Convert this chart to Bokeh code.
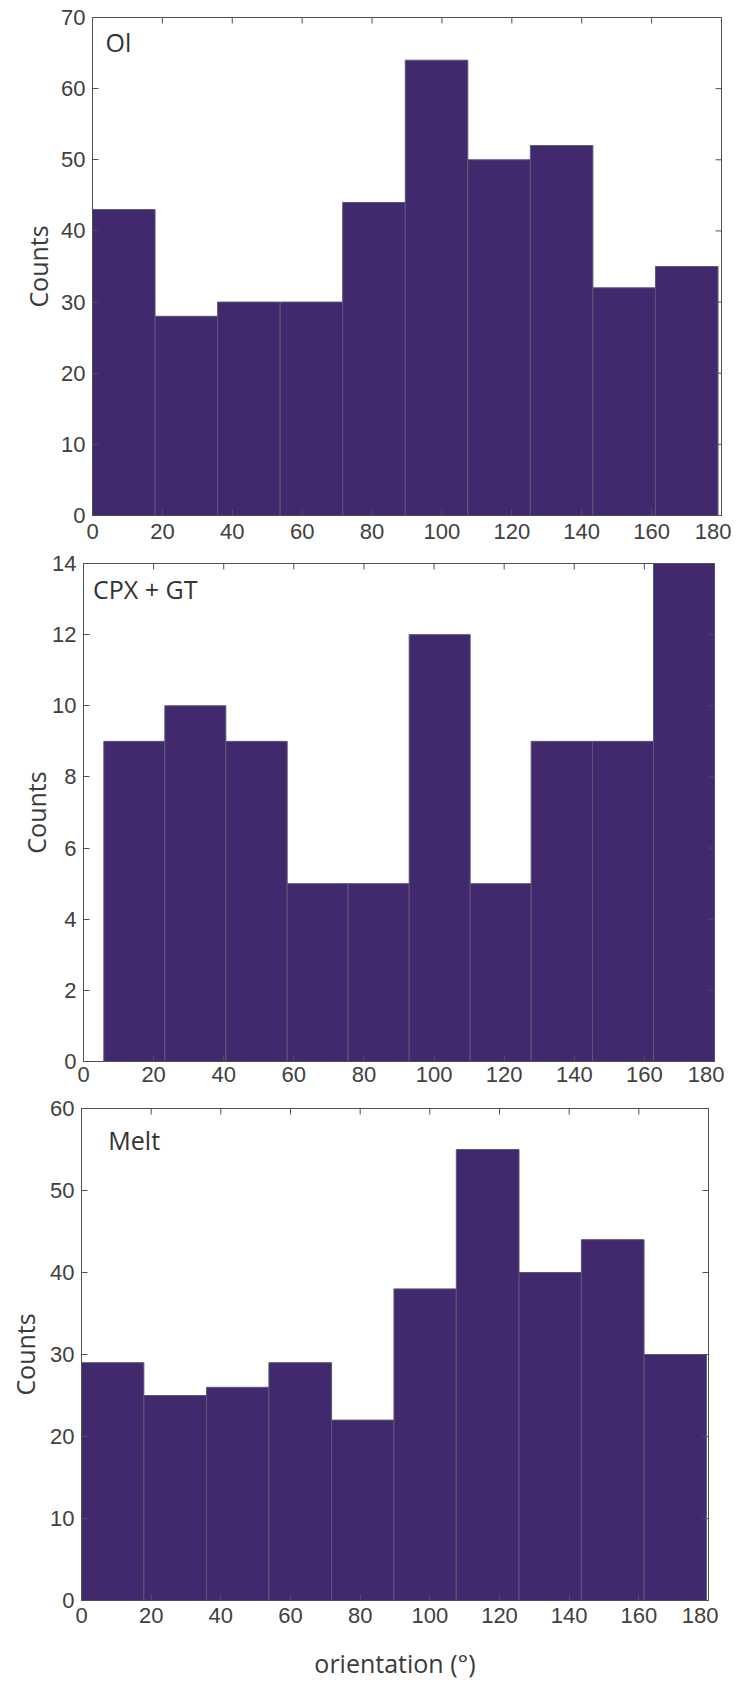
import math
from bokeh.plotting import figure
from bokeh.models import LinearAxis, Range1d, FixedTicker, Label, ColumnDataSource, Spacer
from bokeh.layouts import column, row
from bokeh.embed import file_html
from bokeh.resources import INLINE

# ---------------- data ----------------
x_ticks = [0, 20, 40, 60, 80, 100, 120, 140, 160, 180]

ol_edges = [0, 17.9, 35.8, 53.7, 71.6, 89.5, 107.4, 125.3, 143.2, 161.1, 179.0]
ol_counts = [43, 28, 30, 30, 44, 64, 50, 52, 32, 35]
ol_yticks = [0, 10, 20, 30, 40, 50, 60, 70]

cpx_edges = [5.8, 23.2, 40.6, 58.1, 75.5, 92.9, 110.3, 127.7, 145.2, 162.6, 180.0]
cpx_counts = [9, 10, 9, 5, 5, 12, 5, 9, 9, 14]
cpx_yticks = [0, 2, 4, 6, 8, 10, 12, 14]

melt_edges = [0, 17.9, 35.9, 53.8, 71.8, 89.7, 107.6, 125.6, 143.5, 161.5, 179.4]
melt_counts = [29, 25, 26, 29, 22, 38, 55, 40, 44, 30]
melt_yticks = [0, 10, 20, 30, 40, 50, 60]

panel_names = ["Ol", "CPX + GT", "Melt"]
y_label = "Counts"
x_label = "orientation (°)"

# ---------------- styling ----------------
FILL = "#42296d"
EDGE = "#5a5776"
AXC = "#505050"
TICKC = "#404040"
TICK_FONT = "Liberation Sans"
LABEL_FONT = "Open Sans"
FRAME_W = 631
FRAME_H = 498
BL = 72
BR = 10


def make_panel(edges, counts, yticks, name, bt, bb, ylab_standoff,
               xstand, xlab=None, xlab_standoff=0, name_x=0.0, name_y=0.0):
    ymax = yticks[-1]
    p = figure(width=BL + FRAME_W + BR, height=bt + FRAME_H + bb,
               output_backend="svg", toolbar_location=None,
               x_range=Range1d(0, 180), y_range=Range1d(0, ymax),
               min_border_left=BL, min_border_right=BR, min_border_top=bt,
               min_border_bottom=bb, x_axis_location=None,
               y_axis_location=None)
    p.grid.visible = False
    p.outline_line_color = AXC
    p.outline_line_width = 1
    p.background_fill_color = "white"
    p.border_fill_color = "white"

    src = ColumnDataSource(dict(left=edges[:-1], right=edges[1:],
                                top=counts, bottom=[0] * len(counts)))
    p.quad(left="left", right="right", top="top", bottom="bottom",
           source=src, fill_color=FILL, line_color=EDGE, line_width=1)

    # mirrored inward ticks on the top and right edges of the box
    p.scatter(x=x_ticks, y=[ymax] * len(x_ticks), marker="dash",
              angle=math.pi / 2, size=12, line_color=AXC, line_width=1)
    p.scatter(x=[180] * len(yticks), y=yticks, marker="dash", size=12,
              line_color=AXC, line_width=1)

    def style(ax):
        ax.axis_line_color = AXC
        ax.major_tick_line_color = AXC
        ax.major_tick_in = 6
        ax.major_tick_out = 0
        ax.minor_tick_line_color = None
        ax.major_label_text_font = TICK_FONT
        ax.major_label_text_font_size = "22px"
        ax.major_label_text_color = TICKC

    xb = LinearAxis(ticker=FixedTicker(ticks=x_ticks))
    style(xb)
    xb.major_label_standoff = xstand
    if xlab:
        xb.axis_label = xlab
        xb.axis_label_text_font = LABEL_FONT
        xb.axis_label_text_font_size = "25px"
        xb.axis_label_text_font_style = "normal"
        xb.axis_label_text_color = "#3a3a3a"
        xb.axis_label_standoff = xlab_standoff
    p.add_layout(xb, "below")

    yl = LinearAxis(ticker=FixedTicker(ticks=yticks))
    style(yl)
    yl.major_label_standoff = 7
    yl.axis_label = y_label
    yl.axis_label_text_font = LABEL_FONT
    yl.axis_label_text_font_size = "25px"
    yl.axis_label_text_font_style = "normal"
    yl.axis_label_text_color = "#3a3a3a"
    yl.axis_label_standoff = ylab_standoff
    p.add_layout(yl, "left")

    p.add_layout(Label(x=name_x, y=name_y, text=name, text_font=LABEL_FONT,
                       text_font_size="25px", text_color="#333333",
                       text_baseline="middle", text_align="left"))
    return p


p1 = make_panel(ol_edges, ol_counts, ol_yticks, panel_names[0],
                bt=17, bb=33, ylab_standoff=3, xstand=8,
                name_x=3.7, name_y=66.6)
p2 = make_panel(cpx_edges, cpx_counts, cpx_yticks, panel_names[1],
                bt=15, bb=31, ylab_standoff=-4, xstand=5,
                name_x=2.7, name_y=13.27)
p3 = make_panel(melt_edges, melt_counts, melt_yticks, panel_names[2],
                bt=16, bb=76, ylab_standoff=5, xstand=7, xlab=x_label,
                xlab_standoff=20, name_x=7.7, name_y=56.1)

layout = column(
    row(Spacer(width=18, height=10), p1),
    row(Spacer(width=11, height=10), p2),
    row(Spacer(width=5, height=10), p3),
    spacing=0,
)
open("out.html", "w").write(file_html(layout, INLINE))
